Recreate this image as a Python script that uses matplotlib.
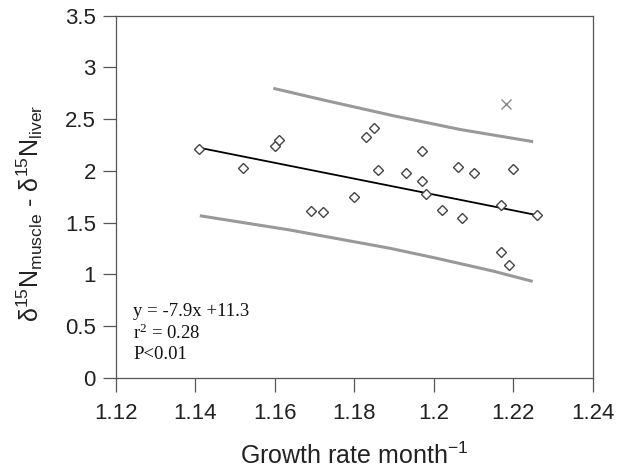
import matplotlib
matplotlib.use("Agg")
import matplotlib.pyplot as plt
import numpy as np

plt.rcParams['font.family'] = ['Liberation Sans', 'DejaVu Sans']
plt.rcParams['mathtext.default'] = 'regular'

# Data
growth = [1.141, 1.152, 1.160, 1.161, 1.169, 1.172, 1.180, 1.183, 1.185,
          1.186, 1.193, 1.197, 1.197, 1.198, 1.202, 1.206, 1.207, 1.210,
          1.217, 1.217, 1.219, 1.220, 1.226]
diff_n = [2.21, 2.03, 2.24, 2.30, 1.61, 1.60, 1.75, 2.33, 2.41,
          2.01, 1.98, 2.19, 1.90, 1.78, 1.62, 2.04, 1.54, 1.98,
          1.67, 1.22, 1.09, 2.02, 1.57]
outlier_x = [1.2183]
outlier_y = [2.65]

fit_x = [1.1414, 1.2249]
fit_y = [2.22, 1.58]

upper_x = [1.1596, 1.1730, 1.1898, 1.2066, 1.2250]
upper_y = [2.798, 2.678, 2.533, 2.400, 2.282]
lower_x = [1.1411, 1.1638, 1.1890, 1.2008, 1.2149, 1.2249]
lower_y = [1.566, 1.428, 1.251, 1.154, 1.031, 0.931]

xticks = [1.12, 1.14, 1.16, 1.18, 1.2, 1.22, 1.24]
xtick_labels = ['1.12', '1.14', '1.16', '1.18', '1.2', '1.22', '1.24']
yticks = [0, 0.5, 1, 1.5, 2, 2.5, 3, 3.5]
ytick_labels = ['0', '0.5', '1', '1.5', '2', '2.5', '3', '3.5']

fig = plt.figure(figsize=(6.19, 4.75), dpi=100)
W, H = 619, 475
ax = fig.add_axes([116 / W, 1 - 377.7 / H, (592.7 - 116) / W, (377.7 - 15.7) / H])

ax.plot(upper_x, upper_y, color='#999999', lw=2.2, solid_capstyle='butt')
ax.plot(lower_x, lower_y, color='#999999', lw=2.2, solid_capstyle='butt')

ax.plot(fit_x, fit_y, color='black', lw=1.3)

ax.plot(growth, diff_n, linestyle='none', marker='D', ms=5.6,
        mfc='white', mec='#444444', mew=1.0)
ax.plot(outlier_x, outlier_y, linestyle='none', marker='x', ms=7,
        color='#888888', mew=1.0)

ax.set_xlim(1.12, 1.24)
ax.set_ylim(0, 3.5)
ax.set_xticks(xticks)
ax.set_xticklabels(xtick_labels)
ax.set_yticks(yticks)
ax.set_yticklabels(ytick_labels)

for s in ax.spines.values():
    s.set_color('#555555')
    s.set_linewidth(0.9)
ax.tick_params(axis='x', direction='out', length=10, width=0.9, color='#555555',
               labelsize=16, labelcolor='#222222', pad=8)
ax.tick_params(axis='y', direction='out', length=9.5, width=0.9, color='#555555',
               labelsize=16, labelcolor='#222222', pad=5)

ax.set_xlabel('Growth rate month$^{-1}$', fontsize=18, color='#222222', va='top')
ax.xaxis.set_label_coords(0.5, -0.178)
ax.set_ylabel('δ$^{15}$N$_{muscle}$ - δ$^{15}$N$_{liver}$', fontsize=18,
              color='#222222')
ax.yaxis.set_label_coords(-0.148, 0.455)

ax.text(0.036, 0.205, 'y = -7.9x +11.3\nr$^{2}$ = 0.28\nP<0.01',
        transform=ax.transAxes, family='Liberation Serif', fontsize=13.5,
        va='top', ha='left', linespacing=1.2, color='#111111')

fig.savefig('out.png', dpi=100)
